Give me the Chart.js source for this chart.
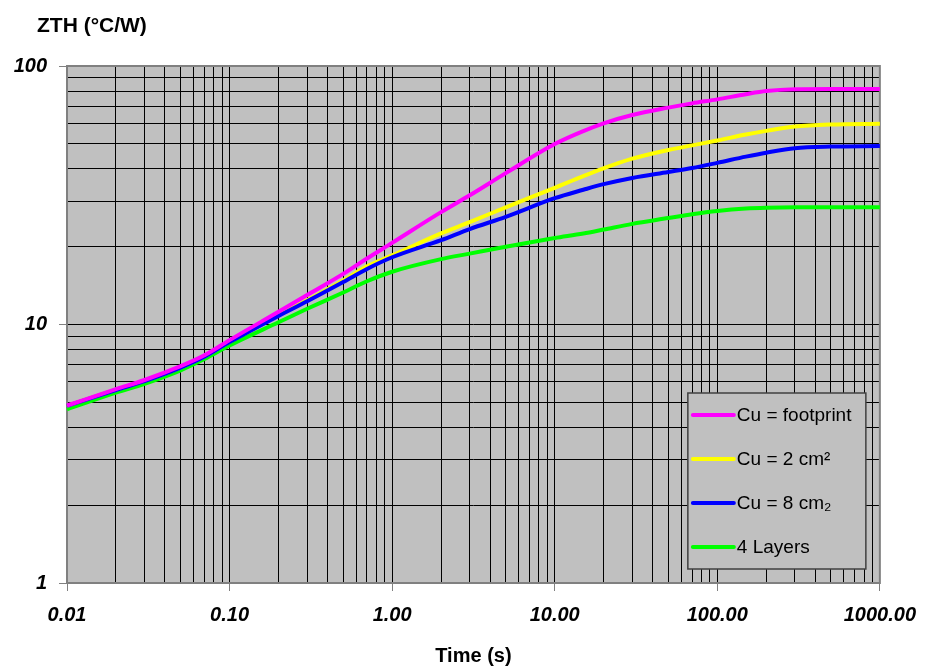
<!DOCTYPE html>
<html>
<head>
<meta charset="utf-8">
<script src="https://cdn.jsdelivr.net/npm/chart.js@4.4.1/dist/chart.umd.min.js"></script>
<style>
    body { margin: 0; background: #fff; }
    #wrap { width: 928px; height: 671px; position: relative; }
</style>
</head>
<body>
<div id="wrap"><canvas id="zth"></canvas></div>
<script>
const timeValues = [0.01, 0.02, 0.03, 0.05, 0.07, 0.1, 0.2, 0.3, 0.5, 0.7, 1, 2, 3, 5, 10, 15, 20, 30, 50, 70, 100, 150, 200, 300, 500, 1000]

const zthFootprint = [4.86, 5.62, 6.1, 6.9, 7.6, 8.7, 11.2, 13.0, 15.7, 18.0, 20.7, 27.2, 31.6, 38.5, 49.9, 56.0, 60.0, 64.6, 69.0, 71.7, 74.3, 77.8, 80.0, 81.3, 81.5, 81.5]
const zth2cm = [4.84, 5.6, 6.07, 6.83, 7.52, 8.58, 10.85, 12.4, 14.8, 16.8, 18.5, 22.5, 24.9, 28.4, 33.8, 37.5, 40.2, 43.8, 47.3, 49.3, 51.5, 54.3, 56.1, 58.3, 59.4, 59.8]
const zth8cm = [4.84, 5.58, 6.04, 6.81, 7.5, 8.55, 10.8, 12.3, 14.6, 16.4, 18.2, 21.2, 23.4, 26.1, 30.8, 33.2, 34.9, 36.9, 38.9, 40.3, 42.2, 44.6, 46.2, 48.1, 48.8, 49.0]
const zth4Layers = [4.7, 5.45, 5.9, 6.65, 7.35, 8.3, 10.2, 11.5, 13.3, 14.7, 16.0, 17.9, 18.8, 20.0, 21.6, 22.5, 23.3, 24.5, 25.8, 26.7, 27.5, 28.1, 28.3, 28.4, 28.4, 28.4]

const seriesNames = ['Cu = footprint', 'Cu = 2 cm\u00b2', 'Cu = 8 cm\u2082', '4 Layers']
const seriesColors = ['#ff00ff', '#ffff00', '#0000ff', '#00ff00']

const xMajorTicks = [0.01, 0.1, 1, 10, 100, 1000]
const xTickLabels = ['0.01', '0.10', '1.00', '10.00', '100.00', '1000.00']
const yMajorTicks = [1, 10, 100]
const yTickLabels = ['1', '10', '100']

// minor grid: 1..9 in every decade
function logGrid(majors) {
    let values = []
    for (let i = 0; i < majors.length - 1; i++) {
        for (let k = 1; k < 10; k++) values.push(majors[i] * k)
    }
    values.push(majors[majors.length - 1])
    return values.map((v) => ({value: v, major: majors.includes(v)}))
}

function majorLabel(value, majors, labels) {
    const i = majors.findIndex((m) => Math.abs(m - value) < m * 1e-6)
    return i >= 0 ? labels[i] : ''
}

const tickFont = {family: 'Liberation Sans, Arial, sans-serif', size: 20, weight: 'bold', style: 'italic'}

const framePlugin = {
    id: 'frame',
    beforeDraw(chart) {
        const {ctx, chartArea: a} = chart
        ctx.save()
        ctx.fillStyle = '#c0c0c0'
        ctx.fillRect(a.left, a.top, a.right - a.left, a.bottom - a.top)
        ctx.restore()
    },
    beforeDatasetsDraw(chart) {
        const {ctx, chartArea: a} = chart
        ctx.save()
        ctx.strokeStyle = '#808080'
        ctx.lineWidth = 2
        ctx.strokeRect(a.left, a.top, a.right - a.left, a.bottom - a.top)
        ctx.restore()
    },
    afterDraw(chart) {
        const {ctx, chartArea: a} = chart
        ctx.save()
        ctx.fillStyle = '#000'
        ctx.font = 'bold 21px "Liberation Sans", Arial, sans-serif'
        ctx.textBaseline = 'alphabetic'
        ctx.fillText('ZTH (\u00b0C/W)', 37, 32)

        // legend inside the plot, bottom right
        const w = 178, h = 176
        const x0 = a.right - 14 - w
        const y0 = a.bottom - 14 - h
        ctx.fillStyle = '#c0c0c0'
        ctx.fillRect(x0, y0, w, h)
        ctx.strokeStyle = '#404040'
        ctx.lineWidth = 1.5
        ctx.strokeRect(x0, y0, w, h)
        ctx.font = '19px "Liberation Sans", Arial, sans-serif'
        ctx.textBaseline = 'middle'
        chart.data.datasets.forEach((ds, i) => {
            const cy = y0 + 22 + i * 44
            ctx.strokeStyle = ds.borderColor
            ctx.lineWidth = 4
            ctx.lineCap = 'round'
            ctx.beginPath()
            ctx.moveTo(x0 + 5, cy)
            ctx.lineTo(x0 + 46, cy)
            ctx.stroke()
            ctx.fillStyle = '#000'
            ctx.fillText(ds.label, x0 + 49, cy + 1)
        })
        ctx.restore()
    }
}

function buildChart() {
    const series = [zthFootprint, zth2cm, zth8cm, zth4Layers]
    const drawOrder = [0, 2, 1, 3]
    const datasets = series.map((values, i) => ({
        label: seriesNames[i],
        data: values.map((v, k) => ({x: timeValues[k], y: v})),
        borderColor: seriesColors[i],
        backgroundColor: seriesColors[i],
        borderWidth: 4,
        pointRadius: 0,
        cubicInterpolationMode: 'monotone',
        order: drawOrder[i],
        clip: false
    }))

    const config = {
        type: 'line',
        data: {datasets: datasets},
        options: {
            responsive: true,
            maintainAspectRatio: false,
            animation: false,
            layout: {padding: {top: 66, right: 47, left: 0, bottom: 0}},
            plugins: {
                legend: {display: false},
                tooltip: {enabled: false}
            },
            scales: {
                x: {
                    type: 'logarithmic',
                    min: 0.01,
                    max: 1000,
                    afterBuildTicks: (axis) => { axis.ticks = logGrid(xMajorTicks) },
                    afterFit: (axis) => { axis.height = 88 },
                    border: {display: false},
                    grid: {
                        color: '#000',
                        lineWidth: 1,
                        tickLength: 8,
                        tickColor: (c) => (c.tick && c.tick.major ? '#808080' : 'rgba(0,0,0,0)')
                    },
                    ticks: {
                        autoSkip: false,
                        maxRotation: 0,
                        padding: 12,
                        color: '#000',
                        font: tickFont,
                        callback: (value) => majorLabel(value, xMajorTicks, xTickLabels)
                    },
                    title: {
                        display: true,
                        text: 'Time (s)',
                        color: '#000',
                        font: {family: 'Liberation Sans, Arial, sans-serif', size: 20, weight: 'bold'},
                        padding: {top: 0, bottom: 3}
                    }
                },
                y: {
                    type: 'logarithmic',
                    min: 1,
                    max: 100,
                    afterBuildTicks: (axis) => { axis.ticks = logGrid(yMajorTicks) },
                    afterFit: (axis) => { axis.width = 67 },
                    border: {display: false},
                    grid: {
                        color: '#000',
                        lineWidth: 1,
                        tickLength: 8,
                        tickColor: (c) => (c.tick && c.tick.major ? '#808080' : 'rgba(0,0,0,0)')
                    },
                    ticks: {
                        autoSkip: false,
                        padding: 12,
                        color: '#000',
                        font: tickFont,
                        callback: (value) => majorLabel(value, yMajorTicks, yTickLabels)
                    }
                }
            }
        },
        plugins: [framePlugin]
    }
    return new Chart(document.getElementById('zth'), config)
}

buildChart()
</script>
</body>
</html>
